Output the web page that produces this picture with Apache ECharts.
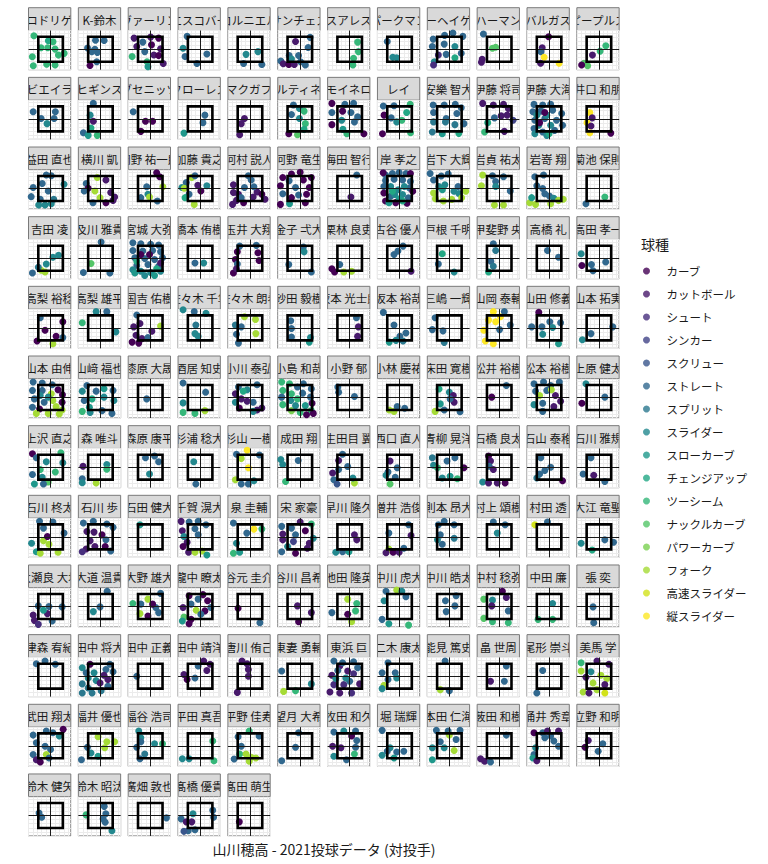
<!DOCTYPE html>
<html><head><meta charset="utf-8">
<script src="https://cdn.jsdelivr.net/npm/echarts/dist/echarts.min.js"></script>
<style>html,body{margin:0;padding:0;background:#fff}#c{width:768px;height:864px}</style>
</head><body><div id="c"></div>
<script>
const pitchTypes = ['カーブ','カットボール','シュート','シンカー','スクリュー','ストレート','スプリット','スライダー','スローカーブ','チェンジアップ','ツーシーム','ナックルカーブ','パワーカーブ','フォーク','高速スライダー','縦スライダー'];
const viridis16 = ['#440154','#481A6C','#472F7D','#414487','#39568C','#31688E','#2A788E','#23888E','#1F988B','#22A884','#35B779','#54C568','#7AD151','#A5DB36','#D2E21B','#FDE725'];
const chartTitle = '山川穂高 - 2021投球データ (対投手)';
const legendTitle = '球種';
const zoneX = [-1, 1];
const zoneY = [-1, 1];
const xRange = [-1.8, 1.65];
const yRange = [-1.64, 1.5];

const pitchers = [
'B.ロドリゲス','K-鈴木','ヴァーリン','エスコバー','コルニエル','サンチェス','スアレス','パークマン','バーヘイゲン','ハーマン','バルガス','ピープルズ',
'ビエイラ','ヒギンス','ブセニッツ','フローレス','マクガフ','マルティネス','モイネロ','レイ','安樂 智大','伊藤 将司','伊藤 大海','井口 和朋',
'益田 直也','横川 凱','岡野 祐一郎','加藤 貴之','河村 説人','河野 竜生','海田 智行','岸 孝之','岩下 大輝','岩貞 祐太','岩嵜 翔','菊池 保則',
'吉田 凌','及川 雅貴','宮城 大弥','橋本 侑樹','玉井 大翔','金子 弌大','栗林 良吏','古谷 優人','戸根 千明','甲斐野 央','高橋 礼','高田 孝一',
'高梨 裕稔','高梨 雄平','国吉 佑樹','佐々木 千隼','佐々木 朗希','砂田 毅樹','坂本 光士郎','坂本 裕哉','三嶋 一輝','山岡 泰輔','山田 修義','山本 拓実',
'山本 由伸','山﨑 福也','漆原 大晟','酒居 知史','小川 泰弘','小島 和哉','小野 郁','小林 慶祐','床田 寛樹','松井 裕樹','松本 裕樹','上原 健太',
'上沢 直之','森 唯斗','森原 康平','杉浦 稔大','杉山 一樹','成田 翔','生田目 翼','西口 直人','青柳 晃洋','石橋 良太','石山 泰稚','石川 雅規',
'石川 柊太','石川 歩','石田 健大','千賀 滉大','泉 圭輔','宋 家豪','早川 隆久','増井 浩俊','則本 昂大','村上 頌樹','村田 透','大江 竜聖',
'大瀬良 大地','大道 温貴','大野 雄大','瀧中 瞭太','谷元 圭介','谷川 昌希','池田 隆英','中川 虎大','中川 皓太','中村 稔弥','中田 廉','張 奕',
'津森 宥紀','田中 将大','田中 正義','田中 靖洋','唐川 侑己','東妻 勇輔','東浜 巨','二木 康太','能見 篤史','畠 世周','尾形 崇斗','美馬 学',
'武田 翔太','福井 優也','福谷 浩司','平田 真吾','平野 佳寿','望月 大希','牧田 和久','堀 瑞輝','本田 仁海','薮田 和樹','涌井 秀章','立野 和明',
'鈴木 健矢','鈴木 昭汰','廣畑 敦也','髙橋 優貴','髙田 萌生'
];

// each pitch: [plate x (zone units), plate y (zone units), pitch type index]
const pitchesRow01 = [
[[-1.36,1.08,10],[-1.49,-0.6,10],[-1.41,-1.32,10],[-0.78,0.12,10],[-0.18,0.68,9],[-0.23,0.12,10],[0.37,0.01,10],[0.64,-0.47,10],[1.11,-0.33,10],[0.37,-1.27,10],[-0.32,-1.21,10],[0.2,0.6,10]],
[[0.3,0.7,5],[-0.4,0.72,5],[-1.05,0.1,5],[-0.45,0,5],[-0.25,-0.25,5],[-0.3,-1.0,5],[-0.85,-1.3,0],[-0.7,-0.2,5]],
[[-1.32,0.89,1],[0.03,0.97,1],[0.68,0.89,0],[-1.1,0.22,1],[0.1,0.35,0],[0.84,0.03,1],[0.29,-0.46,1],[0.68,-0.51,0],[1.06,-1.14,1],[-1.48,-0.59,10],[-0.26,-1.0,10],[-0.19,-1.4,8],[-0.61,0.57,5],[-0.45,-0.19,5]],
[[-1.06,1.03,5],[-1.39,0.08,7],[-1.23,-0.59,5],[0.55,-0.38,5],[-0.26,-1.14,5]],
[[-0.32,-0.41,7],[0.65,-0.19,7],[-0.52,-1.14,5],[0.97,-1.22,5]],
[[0.84,0.95,5],[0.68,0.14,5],[-0.87,-0.51,5],[-0.1,-0.51,5],[0.06,-1.0,5],[0.45,-1.27,5],[-1.55,-0.95,5],[-0.35,0.62,1],[-1.35,-1.16,1],[-0.9,-1.22,0],[-0.45,-1.22,1],[-0.68,-0.78,7]],
[[0.65,0.57,10],[0.71,-0.19,10],[0.32,-0.73,10],[0.26,-1.27,10]],
[[-1.0,0.62,5],[-0.55,-0.65,7],[-0.23,-0.68,7]],
[[-1.32,0.81,5],[-0.39,1.11,5],[0.29,1.3,5],[1.1,1.03,5],[-1.39,0.22,5],[-0.42,0.41,5],[0.45,0.22,7],[-0.9,-0.46,2],[-1.23,-1.0,7],[-1.29,-1.27,2],[-0.26,-0.41,5],[0.45,-0.68,9],[0.97,-0.32,5]],
[[-1.29,1.22,5],[-0.55,0.08,11],[-0.29,0.16,11],[-1.39,-0.81,1],[-1.45,-1.05,1]],
[[-0.04,1.0,0],[-0.56,0.12,1],[-0.66,-0.2,5],[-0.4,-0.65,15],[-0.69,-1.13,1],[0.82,-1.13,15]],
[[0.56,0.28,10],[0.1,-0.15,10],[-0.53,-0.47,1],[-1.22,-1.13,11],[-0.92,-1.32,11],[-1.41,-1.27,0]]
];
const pitchesRow02 = [
[[-1.42,0.57,5],[-0.77,0.03,5],[0.39,0.57,5],[0.29,0.03,5],[-0.29,-0.38,7]],
[[-0.58,1.24,5],[-0.84,0.3,7],[-0.58,-0.19,1],[-1.39,-1.11,5],[-1.0,-1.32,8],[-0.26,-1.32,10],[-0.77,-0.73,9]],
[[-1.39,0.57,5],[-0.39,-0.19,0],[0.19,-0.19,0],[-0.77,-1.0,0]],
[[0.39,0.3,5],[0.23,-0.3,5],[-1.32,-1.14,8]],
[[-0.45,0.03,1],[-0.71,-0.38,1],[-0.84,-1.27,1]],
[[-0.52,1.11,5],[-0.03,0.84,7],[0.35,0.62,10],[-0.68,0.35,5],[-0.03,0.03,7],[0.45,-0.38,10],[-0.9,-1.19,0],[-0.19,-1.27,11],[0.35,-0.84,9]],
[[-1.45,1.24,0],[-0.39,1.16,5],[0.32,1.24,5],[-0.58,0.62,0],[0.1,0.51,5],[-1.45,0.51,5],[-1.45,-0.46,0],[-0.65,-0.11,7],[0.39,-0.24,5],[-0.55,-0.84,8],[-0.23,-1.19,10],[1.16,-1.19,0],[0.65,0.16,5]],
[[-1.32,1.03,5],[-0.45,1.05,5],[0.87,1.16,10],[0.58,0.51,9],[-1.26,0.3,0],[-0.68,0.08,5],[-0.23,-0.24,7],[0.19,-0.11,10],[-1.39,-1.19,0],[0.9,-1.11,10]],
[[-1.32,1.11,5],[-0.42,1.11,5],[0.48,1.16,5],[0.97,0.89,5],[-1.29,0.51,5],[0.61,0.43,5],[-0.26,0.03,5],[-1.29,-0.24,6],[-0.32,-0.24,6],[0.45,-0.46,6],[-1.39,-1.05,6],[-0.58,-1.19,8],[0.77,-1.16,9],[1.19,-0.38,5]],
[[-1.35,1.24,1],[-0.48,1.11,1],[0.35,1.16,1],[0.74,0.84,1],[0.16,0.24,1],[0.65,0.3,1],[-0.39,0.08,5],[-0.94,-0.3,9],[-1.19,-1.05,10],[0.42,-1.0,1],[1.13,-0.11,3]],
[[-1.23,1.16,5],[-0.52,1.11,5],[0.13,1.16,5],[-1.32,0.57,5],[-0.68,0.62,5],[0.29,0.7,5],[1.03,0.43,5],[-1.16,-0.11,5],[-0.35,0.03,5],[0.61,-0.11,5],[-1.23,-0.78,5],[-0.52,-1.05,5],[0.45,-0.92,5],[1.1,-0.51,5],[-1.0,0.3,7],[-0.19,0.3,7],[-0.84,-0.51,7],[0.13,-0.51,7],[-1.16,-1.19,7],[-0.19,-1.32,7],[-0.35,0.51,0],[-0.77,-0.3,0],[0,-1.19,9]],
[[-0.74,0.51,15],[-0.55,0.08,1],[-0.97,-0.3,15],[-0.65,-0.57,1],[-0.74,-1.11,15],[0.97,-1.14,0]]
];
const pitchesRow03 = [
[[-0.35,1.08,5],[0.06,1.03,5],[1.1,0.35,7],[-1.42,0.08,5],[-0.68,0.41,5],[-0.19,-0.19,5],[-0.84,-0.86,5],[-1.58,-0.65,5],[-0.97,-1.32,7],[-0.45,-1.32,7],[0.06,-1.22,7],[0.26,-0.86,6]],
[[-0.26,0.89,13],[0.45,0.68,1],[-1.16,0.41,5],[-1.0,0.03,0],[-0.45,-0.19,13],[0.84,-0.32,1],[1.16,-0.68,1],[1.03,-0.95,1],[-0.03,-0.73,13],[-1.32,-0.19,5],[-0.61,-1.14,5],[0.45,-1.14,0]],
[[0.52,1.27,0],[0.77,0.95,0],[-0.29,0.14,5],[1.03,0.14,13],[-0.19,-0.46,7],[-0.06,-0.68,13],[-0.77,-0.73,5],[0.58,-1.0,5]],
[[-0.68,0.89,13],[-0.42,1.03,5],[-1.13,0.49,5],[-1.48,0.08,7],[-1.29,0.03,13],[0.06,-0.19,0],[0.55,0.22,7],[-0.9,-0.46,5],[-1.23,-0.73,9],[-0.48,-1.27,13],[-0.19,0.27,1]],
[[-1.35,0.3,1],[-1.35,-0.32,1],[-0.94,-0.46,1],[-1.1,-0.95,1],[-1.42,-1.27,1],[-0.52,-1.14,0],[0.58,-0.27,1],[0.26,-0.68,1],[0.97,-0.46,0],[-0.13,1.03,5],[0.1,0.68,5],[-0.45,0.08,5],[0.32,0.14,5],[-0.71,-0.73,5],[1.23,-0.86,1]],
[[-1.39,0.89,0],[-0.68,1.16,0],[0.03,1.3,0],[0.94,0.89,0],[-1.58,0.22,0],[0.29,0.68,0],[0.77,0.08,0],[0.55,-0.46,0],[-0.68,-0.73,0],[0.45,-1.14,0],[-1.58,-1.27,0],[-0.87,0.62,5],[-0.35,0.08,5],[-1.39,-0.41,5],[-0.1,-0.51,5],[-0.84,-1.22,8]],
[[0.58,1.08,5],[0.1,-0.68,1]],
[[-1.14,1.08,5],[-0.58,1.21,5],[-0.03,1.29,5],[0.53,1.21,5],[-1.14,0.64,5],[-0.44,0.74,5],[0.25,0.69,5],[0.89,0.56,5],[-1.28,0.17,5],[0.81,0.04,5],[-0.72,-0.61,5],[0.72,-0.74,5],[-1.33,1.26,0],[0.89,1.21,0],[-1.28,-0.35,0],[-1.14,-1.0,0],[-0.31,-1.13,0],[0.61,-1.18,0],[1.08,-0.22,0],[-0.72,0.17,7],[-0.11,-0.09,7],[0.39,0.17,7],[-0.39,-0.48,7],[0.25,-0.48,7],[-0.58,-0.22,9],[0.25,-1.0,9],[-0.03,-0.82,8],[-0.86,-1.13,8]],
[[-1.57,1.21,5],[-1.29,0.69,5],[-0.66,1.0,5],[-0.09,1.16,5],[0.71,0.17,5],[-0.86,0.17,7],[-0.37,0.3,7],[0.37,-0.22,7],[0.77,-0.4,7],[-1.29,-0.35,13],[-1.14,-0.82,13],[-0.49,-1.0,13],[0.2,-0.87,13],[1.34,-0.22,13],[1.0,-0.74,13],[-0.57,-0.09,8]],
[[-1.35,1.08,13],[-0.55,1.03,5],[0.35,0.95,5],[-1.45,0.22,13],[-0.29,0.57,5],[-0.29,0.16,7],[0.9,-0.19,5],[-0.39,-1.32,13],[0.35,-1.32,13]],
[[-1.16,0.95,5],[-0.45,1.08,5],[-1.0,0.22,5],[-0.52,0,5],[-0.35,-0.41,5],[0.03,-0.59,5],[0.39,-0.78,7],[-1.58,-1.14,13],[-1.1,-1.27,13],[0.77,-0.95,13],[1.16,-0.86,13],[0.13,-1.22,13],[-1.42,-0.73,8]],
[[-1.06,-1.22,5],[0.48,-0.68,10]]
];
const pitchesRow04 = [
[[0.19,0.08,7],[0.65,0.24,7],[-0.35,-0.46,7],[-0.77,-0.97,13],[-0.45,-1.11,13],[-1.0,-0.73,6],[-1.48,-1.19,5]],
[[0.06,1.3,5],[-0.77,-0.43,11],[-1.39,-1.14,5],[0.77,-1.19,5]],
[[-1.42,1.24,5],[-0.77,1.16,5],[0.03,1.11,5],[0.68,1.05,5],[-1.42,0.62,5],[-0.61,0.57,5],[0.19,0.62,5],[0.84,0.51,5],[-1.26,0.03,5],[-0.45,-0.03,5],[0.35,-0.11,5],[1.0,0.03,5],[-1.1,-0.57,5],[-0.19,-0.51,5],[0.68,-0.65,5],[-1.42,-0.92,7],[-0.77,-1.05,7],[0.03,-1.14,7],[0.84,-1.05,7],[-0.45,-1.38,7],[-1.26,-1.19,8],[0.35,-1.38,8],[-0.77,0.3,0],[-0.06,0.3,0],[0.84,-0.38,1],[-1.1,-0.24,9],[0.52,-0.84,9]],
[[-0.42,-0.38,5],[0.29,-0.38,7]],
[[-0.84,0.97,5],[0.52,1.03,5],[-1.03,0.51,0],[-1.19,-0.11,0],[0.65,0.43,0],[0.74,-0.19,0],[-1.03,-0.46,5],[-1.35,-1.19,0],[-1.1,-0.84,1]],
[[0.29,0.89,5],[0.35,0.51,7],[-0.9,-0.51,5],[0.94,-1.11,5]],
[[-0.81,-0.51,5],[-1.45,-0.84,0],[-1.23,-1.11,0],[-0.48,-1.11,13],[0.16,-1.05,13]],
[[-0.45,0.3,5],[-0.13,0.57,5],[0.29,0.97,5],[0.94,-1.05,1]],
[[-0.58,0.35,9],[-0.9,-0.46,5],[0.39,-1.11,7]],
[[-0.48,1.16,5],[-0.29,0.62,6],[-0.68,-0.24,5],[-0.48,-0.65,6],[-0.87,-1.11,9]],
[[-0.13,0.62,5],[0.77,0.08,5]],
[[-1.45,0.35,7],[-1.39,-0.59,0],[-0.61,-0.51,5],[-0.48,-1.0,5],[0.55,-0.3,5]]
];
const pitchesRow05 = [
[[-0.84,0.81,5],[1.0,0.49,0],[-0.45,-0.19,0],[0.45,-0.68,0],[-1.1,-1.05,0],[1.0,-0.78,5],[0.19,-1.27,13]],
[[-0.35,1.3,7],[0.52,1.3,5],[-1.48,0.41,10],[1.26,-0.32,7]],
[[-1.1,1.03,5],[-0.84,0.35,1],[-1.35,0.08,1],[0.84,0.14,13],[0.13,-0.27,1],[-1.16,-0.59,1],[-1.48,-1.14,0],[-0.68,-0.86,1],[-0.19,-0.78,5],[-0.94,-1.22,0]],
[[-1.39,1.45,7],[-0.48,1.3,5],[0.48,1.16,7],[-0.35,0.22,6],[-0.42,-0.46,7],[-0.16,-0.68,7]],
[[-0.45,0.89,13],[0.45,0.68,13],[-1.19,0.22,6],[-0.71,0.08,5],[-1.1,-0.51,5],[0.48,-0.46,13],[-0.94,-1.22,5]],
[[-0.74,0.57,5],[-0.68,-0.05,5],[-0.68,-0.73,5],[0.87,-0.78,7],[0.77,-1.14,8]],
[[0.55,0.81,5],[0.71,0.08,1],[0.65,-0.68,1]],
[[-1.32,1.24,5],[-0.45,0.22,5],[0.52,-0.41,5],[0.03,-0.68,5],[-0.29,-1.0,7],[-0.84,-1.14,8],[0.29,-1.05,6]],
[[-1.16,0.81,5],[-1.39,-0.14,5],[-0.52,-0.24,5],[-0.42,-1.16,6]],
[[-0.48,1.3,15],[0.1,0.89,15],[-0.87,0.62,15],[-0.29,0.49,15],[-1.26,-0.19,15],[-1.13,-1.05,15],[-0.48,-1.27,15],[0.42,1.3,5],[0.9,0.22,5],[0.03,-0.14,5]],
[[-0.84,1.24,0],[-1.42,0.08,5],[-0.58,0.08,5],[0.06,0.49,5],[0.94,0.41,5],[0.29,0.03,7],[-0.52,-0.51,7],[0.77,-1.27,8]],
[[1.13,0.08,5],[-0.65,-0.46,5],[-1.35,-0.95,7]]
];
const pitchesRow06 = [
[[-1.42,1.24,5],[-0.68,1.16,5],[0.13,1.03,5],[-1.48,0.57,5],[-0.68,0.57,5],[-1.32,-0.11,5],[-0.52,-0.38,5],[-1.48,-0.78,5],[0.61,0.62,0],[0.97,0.22,0],[-0.9,-0.92,0],[0.94,-0.38,0],[0.06,0.3,13],[0.19,-0.24,13],[0.45,-0.73,13],[0.94,-1.0,13],[-0.19,-1.27,13],[0.71,-1.32,13],[-1.16,-1.27,13],[-0.84,0.16,7],[-0.19,0.03,7]],
[[-1.1,0.97,5],[-1.48,0.51,7],[-0.35,0.51,5],[0.29,0.7,8],[1.03,0.57,5],[0.29,0.03,7],[-0.68,-0.11,9],[-1.32,-0.24,5],[1.1,-0.24,7],[-0.9,-0.78,8],[-1.48,-1.11,10],[-0.84,-1.19,7],[0.13,-1.05,5],[0.94,-1.27,5]],
[[-0.29,-0.11,5]],
[[-1.39,1.16,5],[0.45,0.43,5],[-1.39,-0.43,7],[-1.39,-1.19,10],[-0.42,-1.27,10],[0.39,-1.05,13]],
[[-0.94,0.84,5],[0.58,1.03,5],[-1.19,0.3,1],[-0.23,0.62,7],[-0.55,0.51,9],[-0.71,-0.11,1],[-1.19,-0.38,7],[-0.23,-0.3,1],[-0.87,-0.84,0],[0.26,-0.38,5],[0.58,-1.0,1],[0.97,-0.84,1],[0.26,-1.11,7]],
[[-1.48,1.24,10],[-0.84,1.11,10],[-1.39,0.57,10],[-0.68,0.3,10],[-0.19,-0.11,10],[-1.39,-0.57,10],[-0.68,-1.05,12],[0.03,-1.19,10],[0.94,-1.05,10],[0.29,1.11,5],[-0.19,0.84,5],[0.94,0.7,5],[0.23,0.35,5],[0.87,0.03,5],[-1.48,0.03,5],[-0.74,-0.24,7],[-0.35,-0.65,7],[0.45,-0.65,8],[1.0,-0.46,0],[1.1,-1.27,0],[0.55,-1.38,0]],
[[-0.97,0.84,5],[-0.9,0.43,5],[0.39,0.08,5]],
[[-0.84,-1.0,13],[-0.45,-1.11,13],[-0.19,-0.73,5],[0.42,-0.86,5]],
[[-0.84,0.68,9],[0,0.43,7],[0.32,0.16,1],[0.39,-0.38,1],[0.06,-0.11,5],[-0.74,-0.51,8],[-1.16,-1.11,13],[-0.42,-1.0,5],[0.87,-1.14,5]],
[[0.58,0.97,5],[-0.61,0.03,0]],
[[-1.23,1.11,5],[-0.45,1.24,5],[0.13,0.97,5],[0.84,1.24,5],[-1.1,0.51,5],[-0.19,0.57,5],[0.52,0.16,1],[-0.77,0.16,13],[0.19,0.62,13],[0.94,-0.3,1],[-0.52,-0.46,5],[-1.23,-0.57,7],[0.39,-0.73,1],[-0.52,-1.11,5]],
[[-1.06,1.11,7],[-1.39,-0.46,0],[0.48,0.03,5]]
];
const pitchesRow07 = [
[[-1.48,1.08,0],[0.84,1.16,10],[-1.16,0.76,5],[-0.35,0.43,7],[1.0,0.35,7],[-0.84,-0.19,10],[0.39,-0.38,10],[-1.48,-0.59,5],[-0.68,-0.81,7],[-0.19,-1.19,11],[-1.32,-1.35,8],[-0.58,-1.35,5]],
[[-1.42,0.08,1],[0.52,0.22,7],[0.52,-0.16,10],[-1.48,-0.92,5],[-1.48,-1.24,7],[-0.35,-1.27,13]],
[[-0.39,0.76,5],[0.35,0.89,5],[0.68,0.43,5],[-0.06,-0.54,7]],
[[-0.52,0.43,7],[-0.35,-1.35,5]],
[[-0.23,1.35,15],[-1.1,1.03,5],[-0.71,0.7,13],[0.77,0.97,5],[-0.13,-0.05,15],[-1.19,-1.0,13],[-0.71,-1.35,5],[-0.13,-1.35,5],[0.32,-1.08,7]],
[[-0.13,0.54,5],[-1.55,0.62,7],[-1.39,0.22,7],[-1.16,-1.14,10]],
[[-0.58,1.03,5],[-0.9,0.54,1],[-0.16,0.05,5],[-1.39,-0.46,1],[-0.9,-0.19,5],[-1.29,-1.0,5],[-1.03,-1.35,4],[0.39,-1.27,13],[0.26,-0.86,7]],
[[-0.77,0.49,1],[-0.19,-0.05,5],[-0.94,-0.38,5],[-1.1,-0.65,7],[-0.35,-0.81,5],[-0.77,-1.35,11]],
[[-1.39,0.76,6],[-1.29,0.16,7],[-0.97,-0.05,10],[-0.19,0.49,5],[0.45,0.76,5],[1.19,-0.05,0],[-0.58,-0.86,7],[0.65,-0.92,10],[0.06,-0.73,8]],
[[-0.87,0.89,0],[-0.71,0.49,1],[-0.81,0.08,5],[-0.48,-0.19,1],[-1.35,-1.19,7],[-0.87,-1.27,1],[-0.16,-1.27,1],[0.48,-1.27,0]],
[[-0.68,0.76,5],[0.13,0,5],[-0.35,-0.27,5],[-0.77,-0.54,5],[-1.0,-0.86,6],[1.1,-1.08,0]],
[[-0.65,0.76,5],[-1.29,-0.54,5],[-0.42,-0.65,1],[0.48,-1.14,5]]
];
const pitchesRow08 = [
[[-0.9,1.24,5],[0.19,1.19,5],[-0.58,0.7,5],[1.1,0.3,5],[-0.58,-0.32,13],[-0.13,-0.59,13],[-1.55,-0.51,7],[-1.16,-1.19,8],[-0.84,-1.32,13],[0.61,-1.24,13],[-0.26,0.03,0]],
[[-1.39,1.11,5],[-0.58,1.24,5],[0.52,1.03,5],[1.03,0.76,5],[-1.1,0.43,1],[-0.52,0.38,1],[0.13,0.16,0],[0.45,-0.24,5],[-0.84,-0.32,1],[-1.16,-0.97,1],[-0.45,-0.78,1],[0.39,-0.78,0],[0.84,-1.14,5],[-1.48,-1.19,2]],
[[-0.84,0.97,8]],
[[-1.55,1.24,1],[-0.9,1.19,5],[-0.16,1.24,5],[0.48,0.97,5],[-0.42,0.65,5],[-1.45,0.49,1],[-1.32,0.03,7],[-0.16,0.16,5],[-1.06,-0.43,1],[-1.39,-0.78,0],[-0.94,-1.24,1],[-0.42,-1.24,13],[0.16,-1.14,13],[0.55,-1.46,8]],
[[-1.35,1.11,5],[-0.26,0.3,5],[0.32,0.62,15],[0.97,0.62,10],[-1.1,-0.51,7],[-1.35,-1.32,10],[-0.84,-1.24,8]],
[[-1.48,0.84,5],[0.03,1.19,1],[0.94,1.03,10],[-0.68,0.7,5],[-1.39,0.22,1],[0.45,0.49,0],[-0.35,0.16,5],[1.1,-0.11,7],[-1.39,-0.24,1],[-0.52,-0.38,3],[0.77,-0.51,1],[-1.0,-0.78,7],[-1.48,-1.19,5],[-0.35,-1.32,0],[0.61,-0.92,1]],
[[0.39,0.16,1],[0.58,-0.24,1],[-1.13,-1.24,7],[-0.58,-1.19,5],[-0.06,-1.19,8]],
[[-0.87,0.3,5],[0.74,0.97,5],[0.94,0.11,1],[-0.87,-0.97,13],[-1.1,-1.27,1],[-0.52,-1.24,0],[-0.03,-1.24,1],[0.35,-0.92,5]],
[[-0.9,0.97,5],[-0.42,1.24,5],[0.39,0.97,5],[-0.74,0.16,5],[-0.97,-0.24,7],[-0.58,-0.59,5],[0.39,-0.11,6]],
[[-0.48,1.19,5],[0.48,0.97,5],[-0.16,0.3,7]],
[[-1.16,0.97,14],[-0.13,1.19,5]],
[[-1.45,-0.51,7],[-0.55,-1.05,9],[0.48,-0.24,5],[1.19,-0.43,5]]
];
const pitchesRow09 = [
[[-1.0,0.05,5],[-0.13,0,5],[0.94,-0.03,5],[-0.26,-0.57,1],[-0.58,-0.3,8],[-1.42,-0.68,1],[-1.32,-1.11,1],[-1.0,-1.43,2],[0.13,-1.16,5]],
[[0.55,1.22,5],[-0.58,-0.41,7],[-0.03,-0.03,5]],
[[0.84,1.05,5],[-1.42,0.24,10],[-0.19,0.59,13],[-0.77,0.19,5],[0.45,-0.08,5],[0.19,0.19,0],[-0.84,-0.57,13],[-0.19,-0.76,0],[0.68,-0.49,5]],
[[-0.9,0.86,0],[0.23,0.95,0],[0.61,0.46,0],[-0.16,0.59,5],[-0.74,0.19,5],[-1.39,-0.08,1],[-0.32,-0.3,13],[0.39,-0.35,0],[0.87,-0.08,5],[-1.32,-0.84,11],[-0.74,-1.03,0],[-0.9,-1.38,0],[0.06,-0.62,5],[-1.45,-1.16,8]],
[[-0.97,-0.14,0],[0.81,-1.3,5]],
[[-0.19,0.05,1],[0.94,-0.49,1],[-0.1,-1.22,0]],
[[-0.16,0.59,13],[0.58,0.24,10],[-1.45,-0.49,5],[-0.16,-0.62,0],[0.48,-0.35,10],[0.16,-1.22,13]],
[[-1.1,1.22,5],[-0.23,1.32,13],[0.19,1.22,7],[0.52,0.78,5],[-1.26,0.46,7],[-1.42,-1.03,5],[-0.87,-1.38,8],[0.74,-1.49,10]],
[[0.55,0.86,5],[-0.32,0.46,5],[0.45,0.05,5],[-0.26,-0.41,5]],
[[0.26,1.22,0],[0.58,0.73,1],[-1.26,0.59,11],[-0.55,0.51,7],[-0.61,0.05,1],[0.74,-0.35,5],[-1.26,-0.95,11],[-0.55,-1.22,10],[0.74,-1.3,10]],
[[0.29,0.24,7],[-0.9,-1.03,10],[0.29,-1.03,10]],
[[-0.48,-0.03,5],[-0.42,-1.3,5]]
];
const pitchesRow10 = [
[[-1.16,1.0,5],[-0.45,1.22,5],[0.39,0.95,5]],
[[-1.48,0.68,7],[-1.0,-0.14,7],[-0.35,-0.35,7],[-1.48,-0.62,6],[-1.48,-1.35,6],[-0.68,-1.35,6],[0.06,-1.16,6],[-1.0,-0.95,6],[-0.52,0.27,7],[-1.16,0.27,5],[0.77,0.95,5],[0.45,0.54,5],[1.03,0.35,5],[0.61,-0.81,5],[-0.84,0.95,0],[0.29,0.08,1],[0.61,-0.27,1],[-0.03,-0.54,1]],
[[-1.1,0,5]],
[[0.29,1.22,1],[0.81,0.95,1],[0.55,0.46,1],[-0.16,0.81,5],[-1.32,0.14,1],[-1.06,-0.27,0],[-0.42,-0.14,5]],
[[-0.65,1.22,1],[-0.23,1.0,1],[-0.13,0.54,1],[-0.13,0,1],[-1.03,-1.3,1]],
[[-1.48,0.41,5],[-1.32,-1.22,13],[-0.35,-1.16,10],[0.94,-0.62,7]],
[[-0.81,0.81,1],[-0.16,0.41,1],[0.32,0.19,2],[-1.45,0.08,1],[-1.29,-0.68,2],[-1.61,-1.27,1],[-0.81,-1.35,1],[0.16,-1.35,2],[0.81,-0.62,1],[-0.48,-0.68,2],[-1.29,1.22,5],[-0.58,1.08,5],[0.32,1.16,5],[0.65,0.68,5],[0,-0.41,5],[-0.97,0.46,5],[-1.13,-0.19,7],[-0.32,-0.14,7]],
[[-0.94,1.08,5],[-1.42,0.27,5],[-0.35,0.27,5],[-0.23,-0.14,7],[-0.94,-0.27,5],[-1.26,-0.73,13],[-1.42,-1.0,7]],
[[-0.35,1.22,5],[-0.74,-1.08,13],[0,-1.16,5]],
[[0.58,0.81,5],[-0.71,-0.41,1],[0.42,-0.41,5]],
[[-0.52,0.46,5],[-1.0,-1.35,5]],
[[-1.45,1.08,10],[-0.16,1.22,1],[0.81,0.95,1],[-1.45,0.41,13],[-0.65,0.35,7],[-1.06,-0.08,1],[0.16,0.08,13],[0.65,-0.19,13],[-0.48,-0.54,13],[0.48,-0.68,1],[-0.16,-1.08,13],[-1.29,-1.27,13],[-0.81,-1.35,1],[0.48,-1.35,14]]
];
const pitchesRow11 = [
[[-1.42,0.86,5],[-0.35,1.19,5],[0.19,1.05,5],[1.03,1.32,0],[0.71,0.78,7],[-1.16,0.24,5],[-0.45,-0.03,5],[0,-0.3,5],[-1.42,-0.7,5],[-0.35,-0.7,13],[-1.16,-1.11,1],[-0.84,-1.3,0],[-0.13,-0.97,5]],
[[-0.19,0.73,13],[0.52,0.32,13],[1.16,0.32,13],[0.35,-0.16,13],[-1.06,-0.11,5],[-0.77,-0.57,7],[-0.19,-0.84,8],[-1.55,-1.11,5]],
[[-0.94,1.19,7],[-0.77,0.65,7],[-0.77,0.32,5],[-1.1,-0.11,5],[0.35,0.16,7],[1.0,0.16,10],[-0.84,-1.03,5],[-0.45,-0.65,6]],
[[-1.45,-1.03,7],[-0.9,-1.03,7],[1.03,0.38,10],[1.13,-1.19,10]],
[[-0.06,1.19,10],[0.74,0.78,5],[-0.97,0.73,5],[-0.71,-0.03,5],[-0.84,-0.65,10],[-0.32,-0.65,13],[0.1,-0.92,13],[0.48,-0.97,13],[-1.29,-1.05,5],[-0.06,-1.24,13]],
[[-0.1,1.05,5],[-0.35,-0.11,5],[-1.48,-1.19,5]],
[[-1.29,1.11,5],[-0.48,1.19,7],[0.48,1.19,5],[0.16,0.78,0],[0.58,0.43,5],[-1.39,-0.03,1],[-0.71,-0.16,1],[0.48,-0.11,5],[-1.29,-0.84,7],[0.39,-0.65,10],[-0.26,-1.11,5]],
[[-1.42,1.24,5],[-0.77,-0.16,7],[-1.0,-0.43,5],[-1.42,-0.76,7],[-0.23,-0.49,5],[0.35,-0.43,5],[-0.45,-0.97,8]],
[[-1.06,1.24,5],[-0.1,1.19,5],[0,0.86,13],[0.87,1.24,5],[0.55,0.51,5],[-1.39,-0.16,7],[-0.42,-0.16,7],[0.39,-0.38,13],[-1.39,-1.11,8],[-0.74,0.32,5]],
[[0.58,0.86,5],[-1.52,-1.03,1],[-1.19,-1.24,1],[-0.71,-1.3,5]],
[[-1.23,1.05,0],[-0.52,1.05,5],[-0.13,1.19,1],[0.77,1.19,1],[0.13,0.78,5],[-0.35,0.65,5],[0.39,0.38,5],[-1.1,-0.16,7],[-1.23,-0.7,5],[-1.32,-0.97,8],[-1.0,-1.19,1],[0.77,-0.03,5]],
[[-0.87,0.43,1],[-1.13,-0.11,0],[0.32,0.16,5],[-0.06,-0.43,5]]
];
const pitchesRow12 = [
[[-0.94,0.19,5],[-0.72,-0.14,5]],
[[-1.17,0.05,10],[0.31,0.73,5],[0.44,0.14,5],[0.22,-0.27,5],[0.39,-0.54,5],[0.94,-1.22,7]],
[[1.32,-0.19,5]],
[[1.03,0.41,5],[1.1,-0.14,5],[-0.58,0.14,7],[-1.55,-0.27,5],[-1.13,-0.51,1],[-0.68,-0.51,1],[-0.97,-1.22,5],[-0.42,-1.14,5],[-1.32,-1.27,4]],
[[-0.87,-0.51,0]]
];

const panels = [].concat(pitchesRow01, pitchesRow02, pitchesRow03, pitchesRow04, pitchesRow05, pitchesRow06,
  pitchesRow07, pitchesRow08, pitchesRow09, pitchesRow10, pitchesRow11, pitchesRow12);

// layout
const NCOL = 12, X0 = 28.5, DX = 49.85, PW = 42.3, Y0 = 7.7, DY = 69.66, SH = 22.8, PH = 39.2;
const FONT = '"Noto Sans CJK JP", "Noto Sans", sans-serif';

const chart = echarts.init(document.getElementById('c'), null, {renderer: 'svg', width: 768, height: 864});
const grids = [], xAxes = [], yAxes = [], series = [], graphics = [];
const boxPath = [[zoneX[0], zoneY[1]], [zoneX[1], zoneY[1]], [zoneX[1], zoneY[0]], [zoneX[0], zoneY[0]], [zoneX[0], zoneY[1]], [zoneX[1], zoneY[1]]];

pitchers.forEach((name, i) => {
  const r = Math.floor(i / NCOL), c = i % NCOL;
  const left = X0 + c * DX, top = Y0 + r * DY;
  grids.push({left: left, top: top + SH, width: PW, height: PH, show: true, backgroundColor: '#fff', borderColor: '#7a7a7a', borderWidth: 1});
  xAxes.push({gridIndex: i, type: 'value', min: xRange[0], max: xRange[1], interval: 0.36,
    axisLine: {show: false}, axisTick: {show: false}, axisLabel: {show: false},
    splitLine: {show: true, lineStyle: {color: '#EBEBEB', width: 1}}});
  yAxes.push({gridIndex: i, type: 'value', min: yRange[0], max: yRange[1], interval: 0.328,
    axisLine: {show: false}, axisTick: {show: false}, axisLabel: {show: false},
    splitLine: {show: true, lineStyle: {color: '#EBEBEB', width: 1}}});
  graphics.push({type: 'rect', shape: {x: left, y: top, width: PW, height: SH}, style: {fill: '#D9D9D9', stroke: '#7a7a7a', lineWidth: 1}, silent: true});
  series.push({type: 'scatter', xAxisIndex: i, yAxisIndex: i, data: panels[i] || [], symbolSize: 7, z: 2, silent: true,
    itemStyle: {color: p => viridis16[p.value[2]], opacity: 1}});
  series.push({type: 'line', xAxisIndex: i, yAxisIndex: i, data: boxPath, showSymbol: false, symbol: 'none', silent: true, z: 6,
    lineStyle: {color: '#000', width: 2.6, join: 'miter'},
    markLine: {silent: true, symbol: 'none', label: {show: false}, animation: false,
      lineStyle: {color: '#1a1a1a', width: 1, type: 'solid'}, data: [{xAxis: 0}, {yAxis: 0}]}});
});
pitchTypes.forEach((t, k) => {
  series.push({type: 'scatter', name: t, xAxisIndex: 0, yAxisIndex: 0, data: [], itemStyle: {color: viridis16[k]}});
});

graphics.push({type: 'text', x: 641, y: 244, silent: true,
  style: {text: legendTitle, fill: '#1a1a1a', font: '14px ' + FONT, textAlign: 'left', align: 'left', textVerticalAlign: 'middle', verticalAlign: 'middle'}});
graphics.push({type: 'text', x: 324, y: 849, silent: true,
  style: {text: chartTitle, fill: '#1a1a1a', font: '14px ' + FONT, textAlign: 'center', align: 'center', textVerticalAlign: 'middle', verticalAlign: 'middle'}});

chart.setOption({
  animation: false,
  backgroundColor: '#fff',
  grid: grids, xAxis: xAxes, yAxis: yAxes, series: series, graphic: graphics,
  tooltip: {show: false},
  legend: {data: pitchTypes.map(n => ({name: n, icon: 'circle'})), orient: 'vertical', left: 638, top: 259,
    itemWidth: 30, itemHeight: 7, itemGap: 9, selectedMode: false,
    textStyle: {fontSize: 11.5, color: '#1a1a1a', fontFamily: FONT, lineHeight: 14}}
});

// strip labels, clipped to their strip boxes like facet strips
const zr = chart.getZr();
pitchers.forEach((name, i) => {
  const r = Math.floor(i / NCOL), c = i % NCOL;
  const left = X0 + c * DX, top = Y0 + r * DY;
  const t = new echarts.graphic.Text({
    style: {text: name, x: left + PW / 2, y: top + SH / 2 + 0.5, fill: '#1a1a1a', fontSize: 11.5, fontFamily: FONT, align: 'center', verticalAlign: 'middle'},
    z: 100, silent: true
  });
  t.setClipPath(new echarts.graphic.Rect({shape: {x: left + 0.5, y: top + 0.5, width: PW - 1, height: SH - 1}}));
  zr.add(t);
});
</script>
</body></html>
